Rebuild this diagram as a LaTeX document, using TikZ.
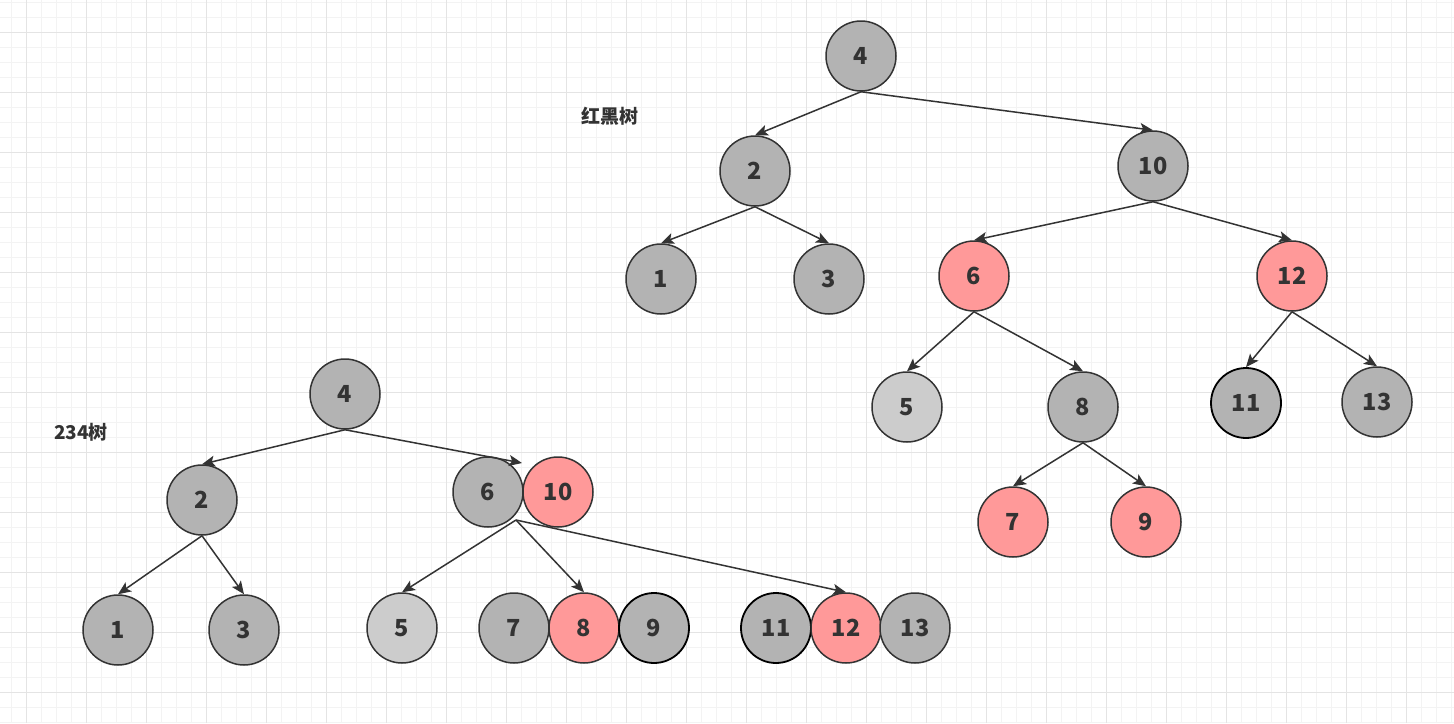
\documentclass[tikz,border=0pt]{standalone}
\usepackage{fontspec}
\newfontfamily\cjk{Noto Sans CJK SC}
\usetikzlibrary{arrows.meta}
\definecolor{edgec}{HTML}{333333}
\definecolor{grayf}{HTML}{B3B3B3}
\definecolor{redf}{HTML}{FF9999}
\definecolor{lightf}{HTML}{CCCCCC}
\definecolor{minorg}{HTML}{F3F3F3}
\definecolor{majorg}{HTML}{E4E4E4}
\tikzset{
 nd/.style={circle, minimum size=70pt, inner sep=0pt, draw=edgec, line width=1.5pt, text=edgec, font=\cjk\bfseries\fontsize{23.5}{25}\selectfont},
 gn/.style={nd, fill=grayf},
 rn/.style={nd, fill=redf},
 ln/.style={nd, fill=lightf},
 bn/.style={nd, fill=grayf, draw=black, line width=1.8pt},
 conn/.style={draw=edgec, line width=1.5pt, -{Stealth[length=13pt,width=11pt,inset=3pt]}},
 lbl/.style={text=edgec, font=\cjk\bfseries\fontsize{19}{21}\selectfont},
 minorline/.style={draw=minorg, line width=1pt},
 majorline/.style={draw=majorg, line width=1pt}
}
\begin{document}
\begin{tikzpicture}[x=1pt,y=-1pt]
\useasboundingbox[fill=white] (0,0) rectangle (1454,723);
% grid
\foreach \i in {0,...,96} { \draw[minorline] ({11.7+15*\i},0) -- ({11.7+15*\i},723); }
\foreach \i in {0,...,48} { \draw[minorline] (0,{2.3+15*\i}) -- (1454,{2.3+15*\i}); }
\foreach \i in {0,...,23} { \draw[majorline] ({26.7+60*\i},0) -- ({26.7+60*\i},723); }
\foreach \i in {0,...,11} { \draw[majorline] (0,{32.3+60*\i}) -- (1454,{32.3+60*\i}); }

% red-black tree
\node[lbl] (lrb) at (610,116) {红黑树};
\node[gn] (r4) at (861,56) {4};
\node[gn] (r2) at (755,171) {2};
\node[gn] (r10) at (1153,166) {10};
\node[gn] (r1) at (661,279) {1};
\node[gn] (r3) at (829,279) {3};
\node[rn] (r6) at (974,276) {6};
\node[rn] (r12) at (1292,276) {12};
\node[ln] (r5) at (907,407) {5};
\node[gn] (r8) at (1083,407) {8};
\node[bn] (r11) at (1246,403) {11};
\node[gn] (r13) at (1377,402) {13};
\node[rn] (r7) at (1013,522) {7};
\node[rn] (r9) at (1146,522) {9};

\draw[conn] (r4.south) -- (r2.north);
\draw[conn] (r4.south) -- (r10.north);
\draw[conn] (r2.south) -- (r1.north);
\draw[conn] (r2.south) -- (r3.north);
\draw[conn] (r10.south) -- (r6.north);
\draw[conn] (r10.south) -- (r12.north);
\draw[conn] (r6.south) -- (r5.north);
\draw[conn] (r6.south) -- (r8.north);
\draw[conn] (r12.south) -- (r11.north);
\draw[conn] (r12.south) -- (r13.north);
\draw[conn] (r8.south) -- (r7.north);
\draw[conn] (r8.south) -- (r9.north);

% 2-3-4 tree
\node[lbl] (l234) at (81,432) {234树};
\node[gn] (s4) at (345,394) {4};
\node[gn] (s2) at (202,500) {2};
\node[gn] (s6) at (488,492) {6};
\node[rn] (s10) at (558,492) {10};
\node[gn] (s1) at (118,630) {1};
\node[gn] (s3) at (244,630) {3};
\node[ln] (s5) at (402,628) {5};
\node[gn] (s7) at (514,628) {7};
\node[rn] (s8) at (584,628) {8};
\node[bn] (s9) at (654,628) {9};
\node[bn] (s11) at (776,628) {11};
\node[rn] (s12) at (846,628) {12};
\node[gn] (s13) at (915,628) {13};
\coordinate (g610in) at (522,463);
\coordinate (g610out) at (516,520);

\draw[conn] (s4.south) -- (s2.north);
\draw[conn] (s4.south) -- (g610in);
\draw[conn] (s2.south) -- (s1.north);
\draw[conn] (s2.south) -- (s3.north);
\draw[conn] (g610out) -- (s5.north);
\draw[conn] (g610out) -- (s8.north);
\draw[conn] (g610out) -- (s12.north);
\end{tikzpicture}
\end{document}
